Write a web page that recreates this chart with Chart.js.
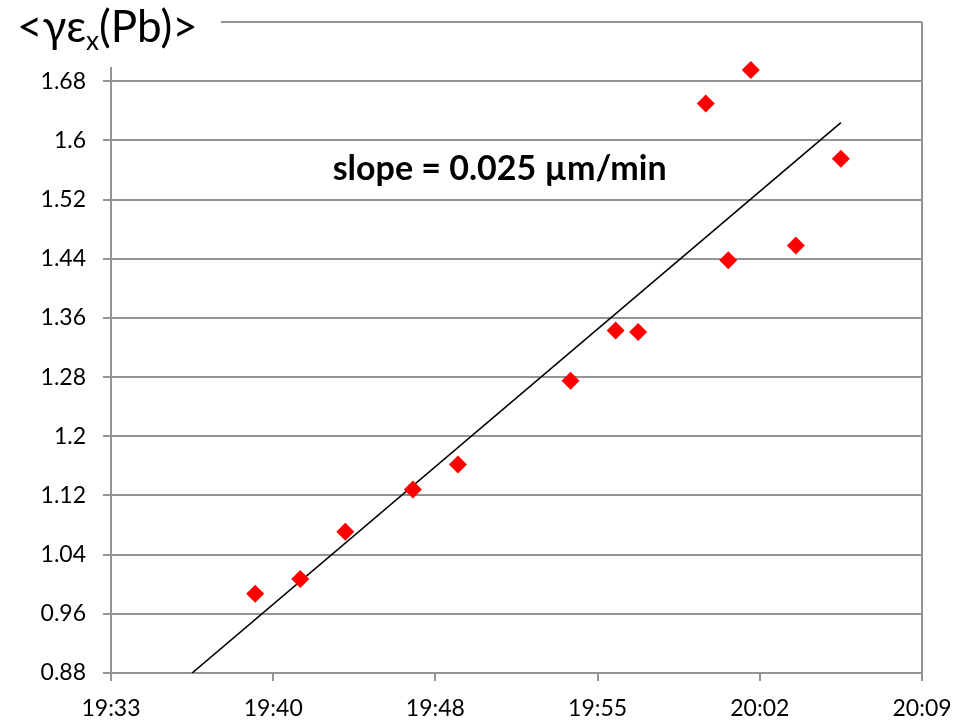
<!DOCTYPE html>
<html>
<head>
<meta charset="utf-8">
<script src="https://cdn.jsdelivr.net/npm/chart.js@4/dist/chart.umd.min.js"></script>
<style>
  html, body { margin: 0; background: #fff; }
  #wrap { width: 954px; height: 722px; position: relative; }
</style>
</head>
<body>
<div id="wrap"><canvas id="chart"></canvas></div>
<script>
// time is minutes after 19:00
const timeMinutes = [40, 42, 44, 47, 49, 54, 56, 57, 60, 61, 62, 64, 66];
const emittance = [0.987, 1.007, 1.071, 1.128, 1.162, 1.275, 1.343, 1.341, 1.650, 1.438, 1.695, 1.458, 1.575];
const trendMinutes = [37.2, 66];
const trendValues = [0.88, 1.624];
const xTickValues = [33.6, 40.8, 48, 55.2, 62.4, 69.6];
const xTickLabels = ['19:33', '19:40', '19:48', '19:55', '20:02', '20:09'];
const yTickValues = [0.88, 0.96, 1.04, 1.12, 1.2, 1.28, 1.36, 1.44, 1.52, 1.6, 1.68, 1.76];
const yTickLabels = ['0.88', '0.96', '1.04', '1.12', '1.2', '1.28', '1.36', '1.44', '1.52', '1.6', '1.68', '1.76'];
const slopeText = 'slope = 0.025 \u00b5m/min';

const gridColor = '#939393';
const tickFont = { family: 'Lato', size: 23 };

const overlay = {
  id: 'overlay',
  afterDraw(chart) {
    const { ctx, scales: { x, y } } = chart;
    ctx.save();
    // slope note
    ctx.fillStyle = '#000';
    ctx.font = 'bold 34px Lato';
    ctx.textAlign = 'center';
    ctx.textBaseline = 'alphabetic';
    ctx.fillText(slopeText, x.getPixelForValue(50.85), y.getPixelForValue(1.546));
    // title box in the corner, over the top of the axis
    ctx.fillStyle = '#fff';
    ctx.fillRect(0, 0, 221, 67);
    ctx.fillStyle = '#000';
    ctx.textAlign = 'left';
    let left = 17;
    ctx.font = '44px Lato';
    ctx.fillText('<\u03b3\u03b5', left, 42);
    left += ctx.measureText('<\u03b3\u03b5').width;
    ctx.font = '26px Lato';
    ctx.fillText('x', left, 50);
    left += ctx.measureText('x').width;
    ctx.font = '44px Lato';
    ctx.fillText('(Pb)>', left, 42);
    ctx.restore();
  }
};

new Chart(document.getElementById('chart'), {
  type: 'scatter',
  data: {
    datasets: [
      {
        label: 'emittance',
        data: timeMinutes.map((t, i) => ({ x: t, y: emittance[i] })),
        pointStyle: 'rectRot',
        pointRadius: 9,
        pointBackgroundColor: '#ff0000',
        pointBorderColor: '#ff0000',
        pointBorderWidth: 0,
        order: 1
      },
      {
        label: 'fit',
        type: 'line',
        data: trendMinutes.map((t, i) => ({ x: t, y: trendValues[i] })),
        borderColor: '#000',
        borderWidth: 1.6,
        pointRadius: 0,
        order: 2
      }
    ]
  },
  options: {
    responsive: true,
    maintainAspectRatio: false,
    animation: false,
    events: [],
    layout: { padding: { top: 22, right: 32, left: 0, bottom: 0 } },
    plugins: { legend: { display: false }, tooltip: { enabled: false } },
    scales: {
      x: {
        type: 'linear',
        min: 33.6,
        max: 69.6,
        afterBuildTicks: s => { s.ticks = xTickValues.map(v => ({ value: v })); },
        afterFit: s => { s.height = 49; s.paddingLeft = 0; s.paddingRight = 0; },
        ticks: { color: '#000', font: tickFont, padding: 14, maxRotation: 0, autoSkip: false,
          callback: (v, i) => xTickLabels[i] },
        grid: {
          color: ctx => ctx.index === xTickValues.length - 1 ? gridColor : 'rgba(0,0,0,0)',
          tickColor: gridColor, lineWidth: 2, tickLength: 8
        },
        border: { color: gridColor, width: 2 }
      },
      y: {
        min: 0.88,
        max: 1.76,
        afterBuildTicks: s => { s.ticks = yTickValues.map(v => ({ value: v })); },
        afterFit: s => { s.width = 111; s.paddingTop = 0; s.paddingBottom = 0; },
        ticks: { color: '#000', font: tickFont, padding: 17, autoSkip: false,
          callback: (v, i) => yTickLabels[i] },
        grid: { color: gridColor, lineWidth: 2, tickLength: 8 },
        border: { color: gridColor, width: 2 }
      }
    }
  },
  plugins: [overlay]
});
</script>
</body>
</html>
